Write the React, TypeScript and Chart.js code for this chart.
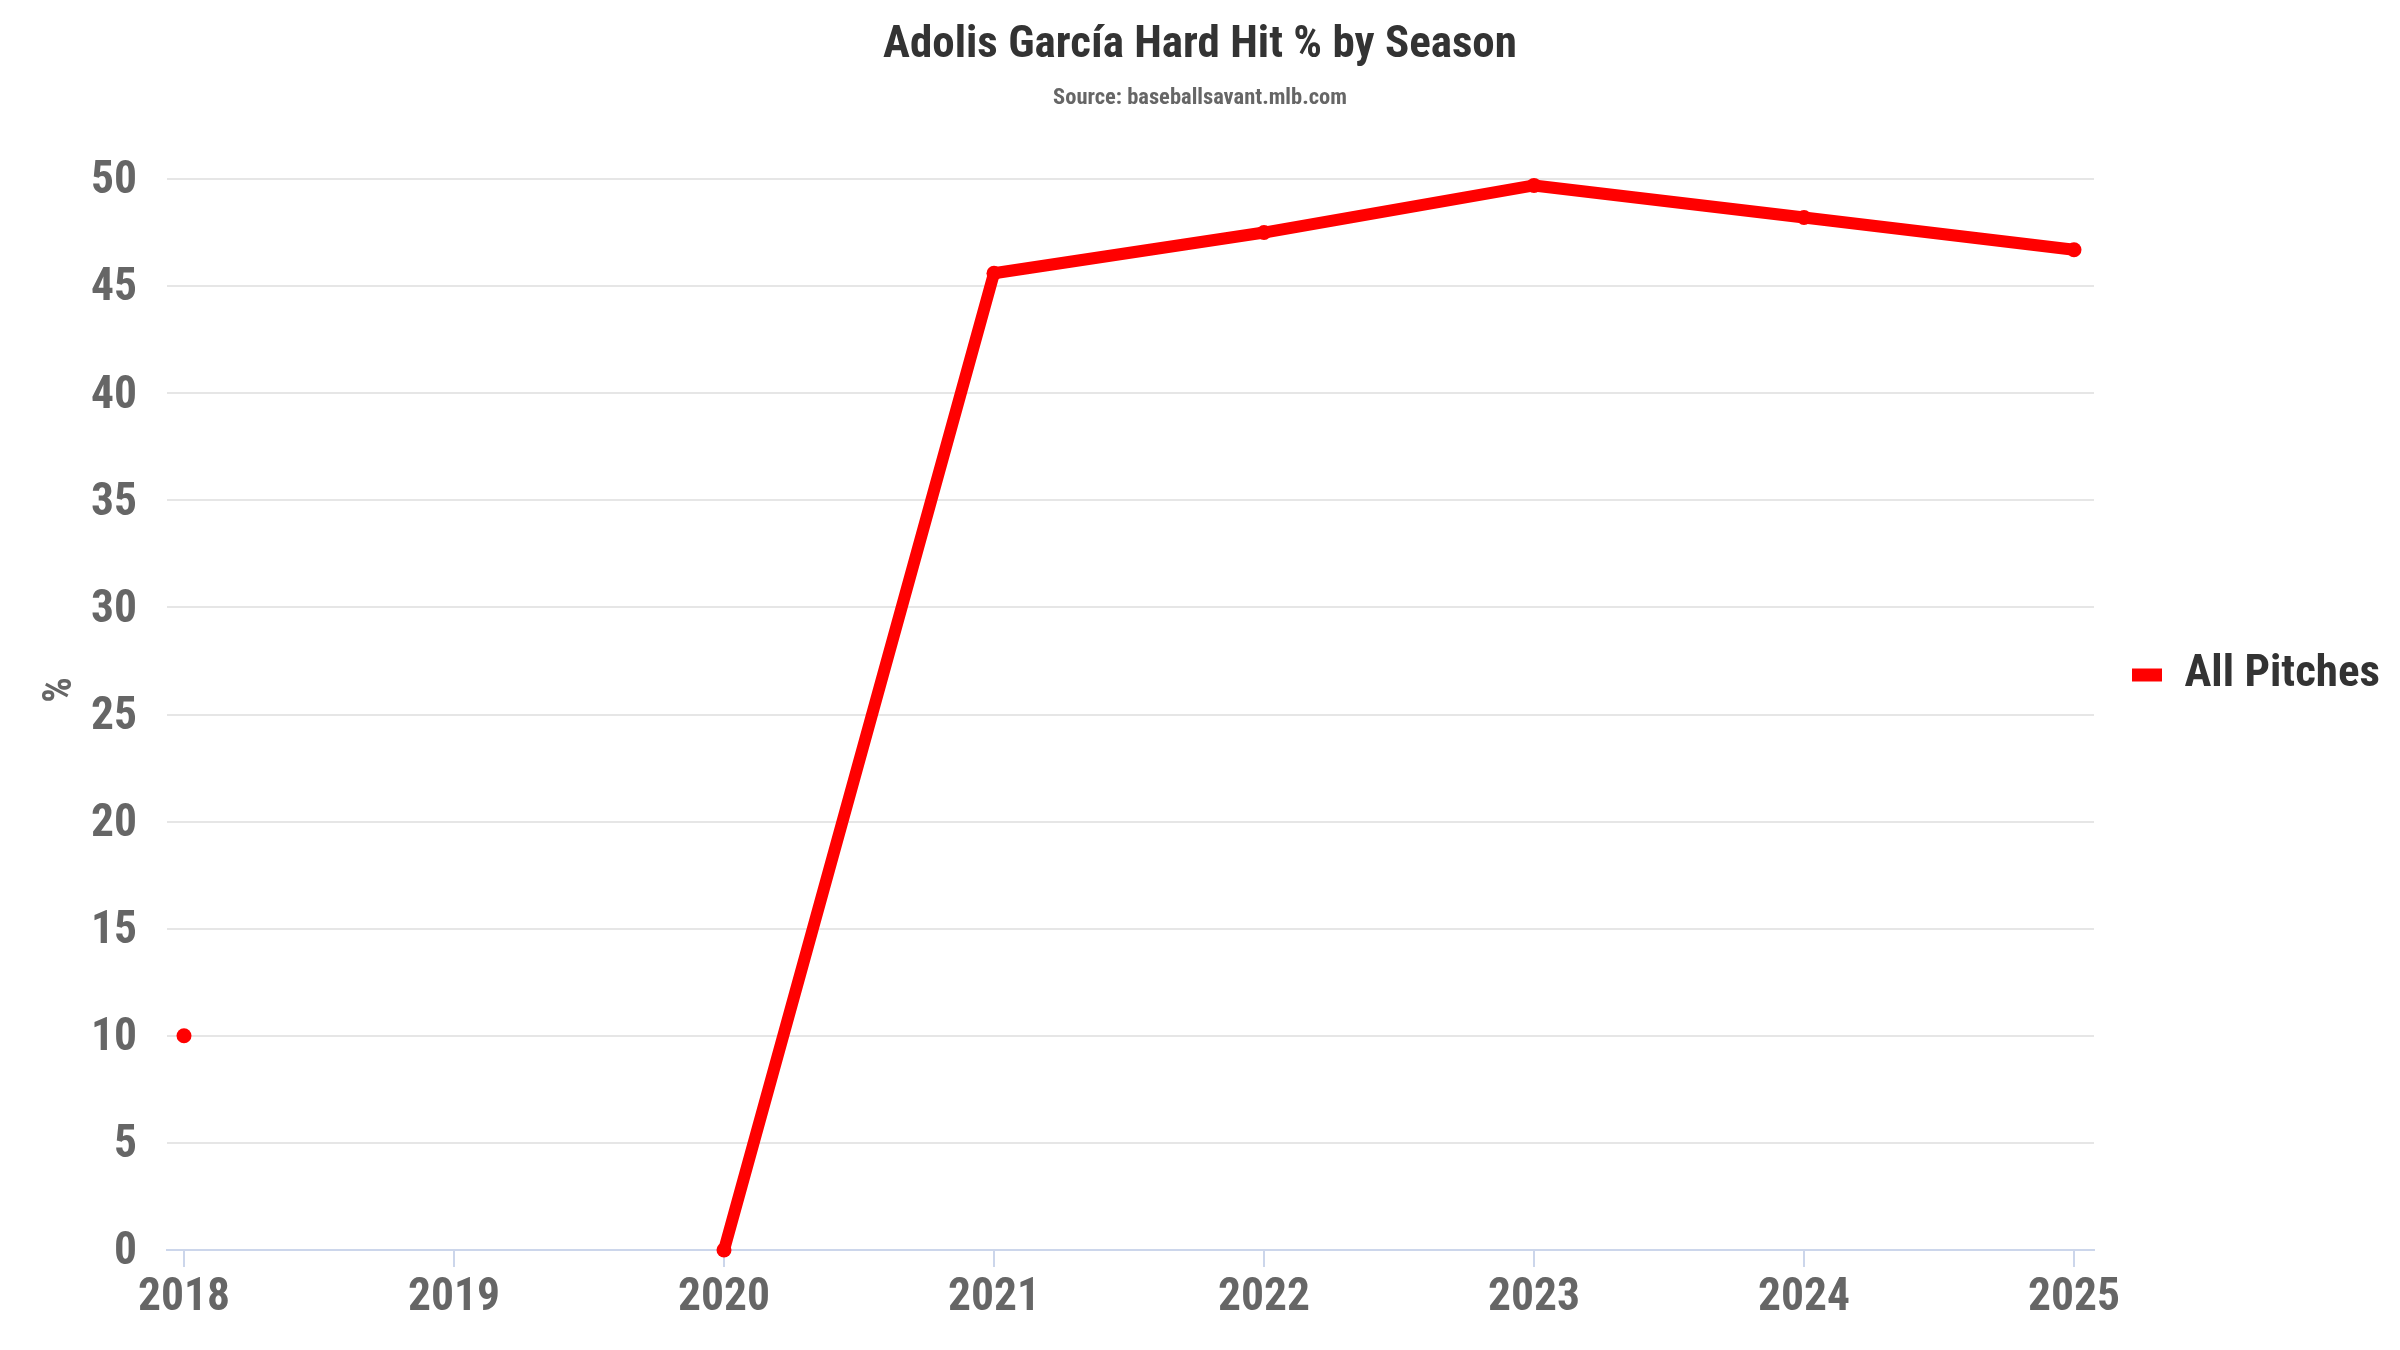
import React, { useEffect, useRef } from "react";
import { Chart, registerables } from "chart.js";

Chart.register(...registerables);

const years: number[] = [2018, 2019, 2020, 2021, 2022, 2023, 2024, 2025];
const hardHitPct: (number | null)[] = [10, null, 0, 45.6, 47.5, 49.7, 48.2, 46.7];
const seriesName = "All Pitches";
const chartTitle = "Adolis García Hard Hit % by Season";
const chartSubtitle = "Source: baseballsavant.mlb.com";
const yAxisTitle = "%";

const FONT = "'Roboto Condensed', 'Liberation Sans Narrow', 'DejaVu Sans Condensed', Roboto, sans-serif";
const LEGEND_FONT_SIZE = 45;

export default function App() {
  const ref = useRef<HTMLCanvasElement | null>(null);

  useEffect(() => {
    if (!ref.current) return;
    const mc = document.createElement("canvas").getContext("2d")!;
    mc.font = `bold ${LEGEND_FONT_SIZE}px ${FONT}`;
    const textW = mc.measureText(seriesName).width;
    const legendPad = 38;
    const padRight = Math.max(0, 306 - (legendPad + 30 + LEGEND_FONT_SIZE / 2 + textW + 10));
    const padLeft = Math.min(padRight, 40);

    const yTitlePlugin = {
      id: "yTitle",
      afterDraw(chart: any) {
        const ctx = chart.ctx;
        ctx.save();
        ctx.translate(61, 690);
        ctx.rotate(-Math.PI / 2);
        ctx.font = `bold 40px ${FONT}`;
        ctx.fillStyle = "#666666";
        ctx.textAlign = "center";
        ctx.textBaseline = "middle";
        ctx.fillText(yAxisTitle, 0, 0);
        ctx.restore();
      },
    };

    Chart.defaults.font.family = FONT;

    const chart = new Chart(ref.current, {
      type: "line",
      data: {
        datasets: [
          {
            label: seriesName,
            data: years.map((y, i) => ({ x: y, y: hardHitPct[i] })) as any,
            borderColor: "#ff0000",
            backgroundColor: "#ff0000",
            borderWidth: 12,
            pointRadius: 7.5,
            pointHoverRadius: 7.5,
            pointBackgroundColor: "#ff0000",
            pointBorderWidth: 0,
            spanGaps: false,
            tension: 0,
            borderCapStyle: "round",
            borderJoinStyle: "round",
            clip: false as any,
          },
        ],
      },
      options: {
        responsive: false,
        animation: false,
        layout: { padding: { left: padLeft, right: padRight, top: 0, bottom: 0 } },
        scales: {
          x: {
            type: "linear",
            min: 2018 - 17 / 270,
            max: 2025 + 20 / 270,
            ticks: {
              stepSize: 1,
              includeBounds: false,
              autoSkip: false,
              maxRotation: 0,
              padding: 4,
              color: "#666666",
              font: { size: 45.5, weight: "bold" },
              callback: (v: any) => String(v),
            },
            grid: {
              drawOnChartArea: false,
              drawTicks: true,
              tickLength: 17,
              color: "#ccd6eb",
              lineWidth: 2,
            },
            border: { display: true, color: "#ccd6eb", width: 2 },
            afterFit: (scale: any) => {
              scale.height = 100;
            },
          },
          y: {
            min: 0,
            max: 50,
            ticks: {
              stepSize: 5,
              padding: 30,
              labelOffset: 3,
              color: "#666666",
              font: { size: 45.5, weight: "bold" },
            },
            grid: { color: "#e6e6e6", lineWidth: 2, drawTicks: false },
            border: { display: false },
            afterFit: (scale: any) => {
              scale.width = 167 - padLeft;
            },
          },
        },
        plugins: {
          title: {
            display: true,
            text: chartTitle,
            color: "#333333",
            font: { size: 45, weight: "bold" },
            padding: { top: 19, bottom: 0 },
          },
          subtitle: {
            display: true,
            text: chartSubtitle,
            color: "#666666",
            font: { size: 22.5, weight: "bold" },
            padding: { top: 12, bottom: 0 },
          },
          legend: {
            display: true,
            position: "right",
            align: "center",
            labels: {
              color: "#333333",
              font: { size: LEGEND_FONT_SIZE, weight: "bold" },
              boxWidth: 30,
              boxHeight: 13,
              padding: legendPad,
              generateLabels: (c: any) =>
                Chart.defaults.plugins.legend.labels
                  .generateLabels(c)
                  .map((l: any) => ({ ...l, lineWidth: 0, fillStyle: "#ff0000", strokeStyle: "#ff0000" })),
            },
          },
          tooltip: { enabled: false },
        },
      },
      plugins: [
        yTitlePlugin,
        {
          id: "fixTop",
          beforeLayout(chart: any) {
            const t = chart.options.plugins.title;
            const s = chart.options.plugins.subtitle;
            const used = t.padding.top + t.font.size * 1.2 + t.padding.bottom + s.padding.top + s.font.size * 1.2;
            s.padding = { top: s.padding.top, bottom: 179 - used };
          },
        },
      ],
    });
    return () => chart.destroy();
  }, []);

  return (
    <div style={{ position: "fixed", left: 0, top: 0, width: 2400, height: 1350, background: "#ffffff" }}>
      <canvas ref={ref} width={2400} height={1350} style={{ width: 2400, height: 1350, display: "block" }} />
    </div>
  );
}
